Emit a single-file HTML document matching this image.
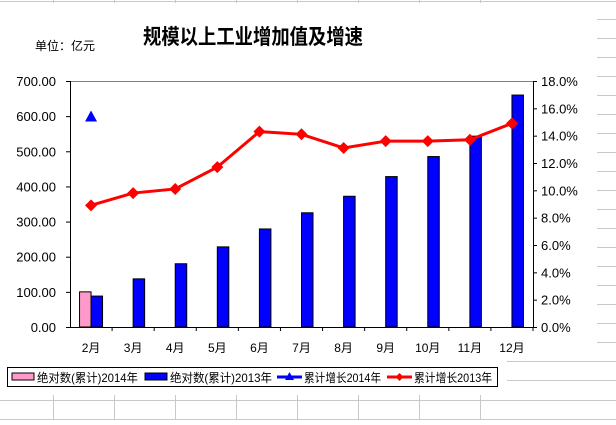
<!DOCTYPE html>
<html><head><meta charset="utf-8"><style>
body{margin:0;width:616px;height:420px;overflow:hidden;background:#fff;font-family:"Liberation Sans","Noto Sans CJK SC",sans-serif}
</style></head><body>
<svg id="c" width="616" height="420" xmlns="http://www.w3.org/2000/svg" font-family="Liberation Sans, Noto Sans CJK SC, sans-serif">
<g id="sheet" stroke="#c8c8c8" stroke-width="1"></g>
<text x="143" y="44" font-size="21" font-weight="bold" textLength="220" lengthAdjust="spacingAndGlyphs">规模以上工业增加值及增速</text>
<text x="35" y="50" font-size="12">单位：亿元</text>
<g id="plot"></g>
<g>
<rect x="7.5" y="367.5" width="490" height="19" fill="#fff" stroke="#000"/>
<rect x="12" y="373" width="22" height="7" fill="#ff99cc" stroke="#000"/>
<text x="37" y="382" font-size="12" textLength="101" lengthAdjust="spacingAndGlyphs">绝对数(累计)2014年</text>
<rect x="145" y="373" width="22" height="7" fill="#0000ff" stroke="#000"/>
<text x="170" y="382" font-size="12" textLength="102" lengthAdjust="spacingAndGlyphs">绝对数(累计)2013年</text>
<line x1="277" y1="377" x2="302" y2="377" stroke="#0000ff" stroke-width="3"/>
<polygon points="289.5,372 294,380 285,380" fill="#0000ff"/>
<text x="304" y="382" font-size="12" textLength="77" lengthAdjust="spacingAndGlyphs">累计增长2014年</text>
<line x1="387" y1="377" x2="412" y2="377" stroke="#ff0000" stroke-width="3"/>
<polygon points="399.5,373 403.5,377 399.5,381 395.5,377" fill="#ff0000"/>
<text x="414" y="382" font-size="12" textLength="78" lengthAdjust="spacingAndGlyphs">累计增长2013年</text>
</g>
</svg>
<script>
const categories=["2月","3月","4月","5月","6月","7月","8月","9月","10月","11月","12月"];
const abs2014=[100,null,null,null,null,null,null,null,null,null,null];
const abs2013=[88,137,180,228,279,325,372,428,485,543,660];
const growth2014=[15.4,null,null,null,null,null,null,null,null,null,null];
const growth2013=[8.9,9.8,10.1,11.7,14.3,14.1,13.1,13.6,13.6,13.7,14.9];
const leftTicks=["0.00","100.00","200.00","300.00","400.00","500.00","600.00","700.00"];
const rightTicks=["0.0%","2.0%","4.0%","6.0%","8.0%","10.0%","12.0%","14.0%","16.0%","18.0%"];
const NS="http://www.w3.org/2000/svg";
const L=70,R=533,T=81,B=327;
const cw=(R-L)/categories.length;
const yL=v=>B-(v/700)*(B-T);
const yR=v=>B-(v/18)*(B-T);
const xC=i=>L+cw*(i+0.5);
function mk(tag,attrs,parent){const e=document.createElementNS(NS,tag);for(const k in attrs)e.setAttribute(k,attrs[k]);parent.appendChild(e);return e;}
const sheet=document.getElementById('sheet');
[53,114,175,236,297,358,419,480].forEach(x=>{mk('line',{x1:x+.5,y1:0,x2:x+.5,y2:3},sheet);mk('line',{x1:x+.5,y1:395,x2:x+.5,y2:420},sheet);});
mk('line',{x1:0,y1:1.5,x2:616,y2:1.5},sheet);
mk('line',{x1:0,y1:400.5,x2:616,y2:400.5},sheet);
mk('line',{x1:0,y1:419.5,x2:616,y2:419.5},sheet);
for(let y=19.5;y<395;y+=19){mk('line',{x1:(y>355?507:597),y1:y,x2:616,y2:y},sheet);}
const plot=document.getElementById('plot');
const ax=mk('g',{},plot);


mk('line',{x1:L,y1:T+.5,x2:R,y2:T+.5,stroke:'#808080'},ax);
mk('line',{x1:L+.5,y1:T,x2:L+.5,y2:B,stroke:'#000'},ax);
mk('line',{x1:R+.5,y1:T,x2:R+.5,y2:B,stroke:'#000'},ax);
mk('line',{x1:L,y1:B+.5,x2:R,y2:B+.5,stroke:'#000'},ax);
leftTicks.forEach((t,i)=>{const v=i*100;const y=yL(v);
mk('line',{x1:L-4,y1:y+.5,x2:L,y2:y+.5,stroke:'#000'},ax);
const tx=mk('text',{x:56,y:y+5,'font-size':13,'text-anchor':'end'},ax);tx.textContent=t;

});
rightTicks.forEach((t,i)=>{const v=i*2;const y=yR(v);
mk('line',{x1:R,y1:y+.5,x2:R+4,y2:y+.5,stroke:'#000'},ax);
const tx=mk('text',{x:541,y:y+5,'font-size':13},ax);tx.textContent=t;

});
categories.forEach((c,i)=>{const x=L+cw*(i+1);
mk('line',{x1:x,y1:B,x2:x,y2:B+4,stroke:'#000'},ax);
const tx=mk('text',{x:xC(i),y:352,'font-size':12,'text-anchor':'middle'},ax);tx.textContent=c;

});
const bw=11.5;
abs2014.forEach((v,i)=>{if(v==null)return;const r=mk('rect',{x:xC(i)-bw,y:yL(v),width:bw,height:B-yL(v),fill:'#ff99cc',stroke:'#000','stroke-width':1},plot);

});
abs2013.forEach((v,i)=>{if(v==null)return;const r=mk('rect',{x:xC(i),y:yL(v),width:bw,height:B-yL(v),fill:'#0000ff',stroke:'#000','stroke-width':1},plot);

});
const pts=growth2013.map((v,i)=>xC(i)+','+yR(v)).join(' ');
const pl=mk('polyline',{points:pts,fill:'none',stroke:'#ff0000','stroke-width':3},plot);


growth2013.forEach((v,i)=>{const x=xC(i),y=yR(v);
const p=mk('polygon',{points:`${x},${y-6} ${x+6},${y} ${x},${y+6} ${x-6},${y}`,fill:'#ff0000'},plot);

});
growth2014.forEach((v,i)=>{if(v==null)return;const x=xC(i),y=yR(v);
const p=mk('polygon',{points:`${x},${y-6} ${x+6},${y+5} ${x-6},${y+5}`,fill:'#0000ff'},plot);

});
</script>
</body></html>
